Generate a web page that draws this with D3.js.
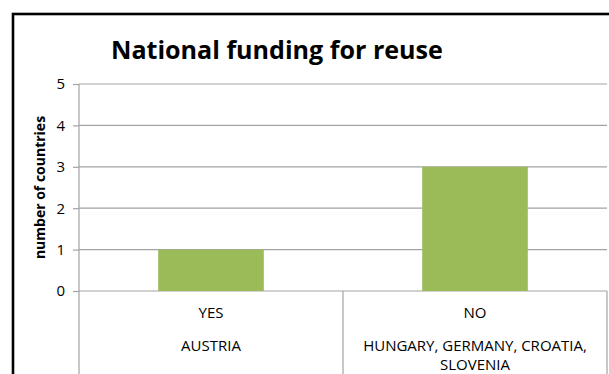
<!DOCTYPE html>
<html>
<head>
<meta charset="utf-8">
<script src="https://cdn.jsdelivr.net/npm/d3@7"></script>
<style>
  html, body { margin: 0; padding: 0; background: #fff; }
  svg { display: block; }
  text { font-family: "Open Sans", "DejaVu Sans", sans-serif; fill: #000; }
</style>
</head>
<body>
<div id="chart"></div>
<script>
// Answers to "national funding for reuse" and the countries behind each answer
const categories = ["YES", "NO"];
const countries = [["AUSTRIA"], ["HUNGARY, GERMANY, CROATIA,", "SLOVENIA"]];
const counts = [1, 3];
const yTicks = [0, 1, 2, 3, 4, 5];

const W = 609, H = 374;
const plot = { left: 79, right: 607, top: 84, bottom: 291 };

const svg = d3.select("#chart").append("svg")
  .attr("width", W).attr("height", H);

svg.append("rect").attr("width", W).attr("height", H).attr("fill", "#fff");

// chart area frame (runs past the right and bottom edges)
svg.append("rect")
  .attr("x", 13).attr("y", 14)
  .attr("width", W + 20).attr("height", H + 20)
  .attr("fill", "none").attr("stroke", "#000").attr("stroke-width", 2.6);

const x = d3.scaleBand()
  .domain(categories)
  .range([plot.left, plot.right])
  .paddingInner(0.6)
  .paddingOuter(0.3);

const xCat = d3.scaleBand()
  .domain(categories)
  .range([plot.left, plot.right]);

const y = d3.scaleLinear().domain([0, 5]).range([plot.bottom, plot.top]);

const gridColor = "#a3a3a3";

// horizontal gridlines
svg.append("g")
  .selectAll("line")
  .data(yTicks)
  .join("line")
  .attr("x1", plot.left).attr("x2", plot.right)
  .attr("y1", d => y(d)).attr("y2", d => y(d))
  .attr("stroke", gridColor).attr("stroke-width", 1.2);

// value axis
const yAxis = svg.append("g")
  .attr("transform", `translate(${plot.left},0)`)
  .call(d3.axisLeft(y).tickValues(yTicks).tickSize(6).tickPadding(8).tickFormat(d3.format("d")));
yAxis.select(".domain").remove();
yAxis.selectAll(".tick line").attr("stroke", gridColor).attr("stroke-width", 1.2);
yAxis.selectAll(".tick text")
  .attr("fill", "#000")
  .style("font-size", "15px")
  .style("font-family", "\"Open Sans\", sans-serif");

// vertical axis line, continuing through the category table
svg.append("line")
  .attr("x1", plot.left).attr("x2", plot.left)
  .attr("y1", plot.top).attr("y2", H)
  .attr("stroke", gridColor).attr("stroke-width", 1.2);

// category table dividers
svg.append("g")
  .selectAll("line")
  .data(categories.slice(1).map(c => xCat(c)).concat([plot.right]))
  .join("line")
  .attr("x1", d => d).attr("x2", d => d)
  .attr("y1", plot.bottom).attr("y2", H)
  .attr("stroke", gridColor).attr("stroke-width", 1.2);

// bars
svg.append("g")
  .selectAll("rect")
  .data(categories)
  .join("rect")
  .attr("x", d => x(d))
  .attr("width", x.bandwidth())
  .attr("y", (d, i) => y(counts[i]))
  .attr("height", (d, i) => y(0) - y(counts[i]))
  .attr("fill", "#9bbb59");

// first level of category labels
svg.append("g")
  .selectAll("text")
  .data(categories)
  .join("text")
  .attr("x", d => xCat(d) + xCat.bandwidth() / 2)
  .attr("y", 318)
  .attr("text-anchor", "middle")
  .style("font-size", "15px")
  .text(d => d);

// second level: the countries
const cg = svg.append("g")
  .selectAll("text")
  .data(categories)
  .join("text")
  .attr("x", d => xCat(d) + xCat.bandwidth() / 2)
  .attr("y", 351)
  .attr("text-anchor", "middle")
  .style("font-size", "15px");
cg.selectAll("tspan")
  .data((d, i) => countries[i])
  .join("tspan")
  .attr("x", function() { return this.parentNode.getAttribute("x"); })
  .attr("dy", (d, j) => j === 0 ? 0 : 19)
  .text(d => d);

// axis title
svg.append("text")
  .attr("transform", `translate(45,${(plot.top + plot.bottom) / 2}) rotate(-90)`)
  .attr("text-anchor", "middle")
  .style("font-size", "14px")
  .style("font-weight", "bold")
  .text("number of countries");

// chart title
const title = svg.append("text")
  .attr("x", 111).attr("y", 59)
  .style("font-size", "26px")
  .style("font-weight", "bold")
  .text("National funding for reuse");
const tw = title.node().getComputedTextLength();
title.style("font-size", (26 * 332 / tw).toFixed(2) + "px");
</script>
</body>
</html>
